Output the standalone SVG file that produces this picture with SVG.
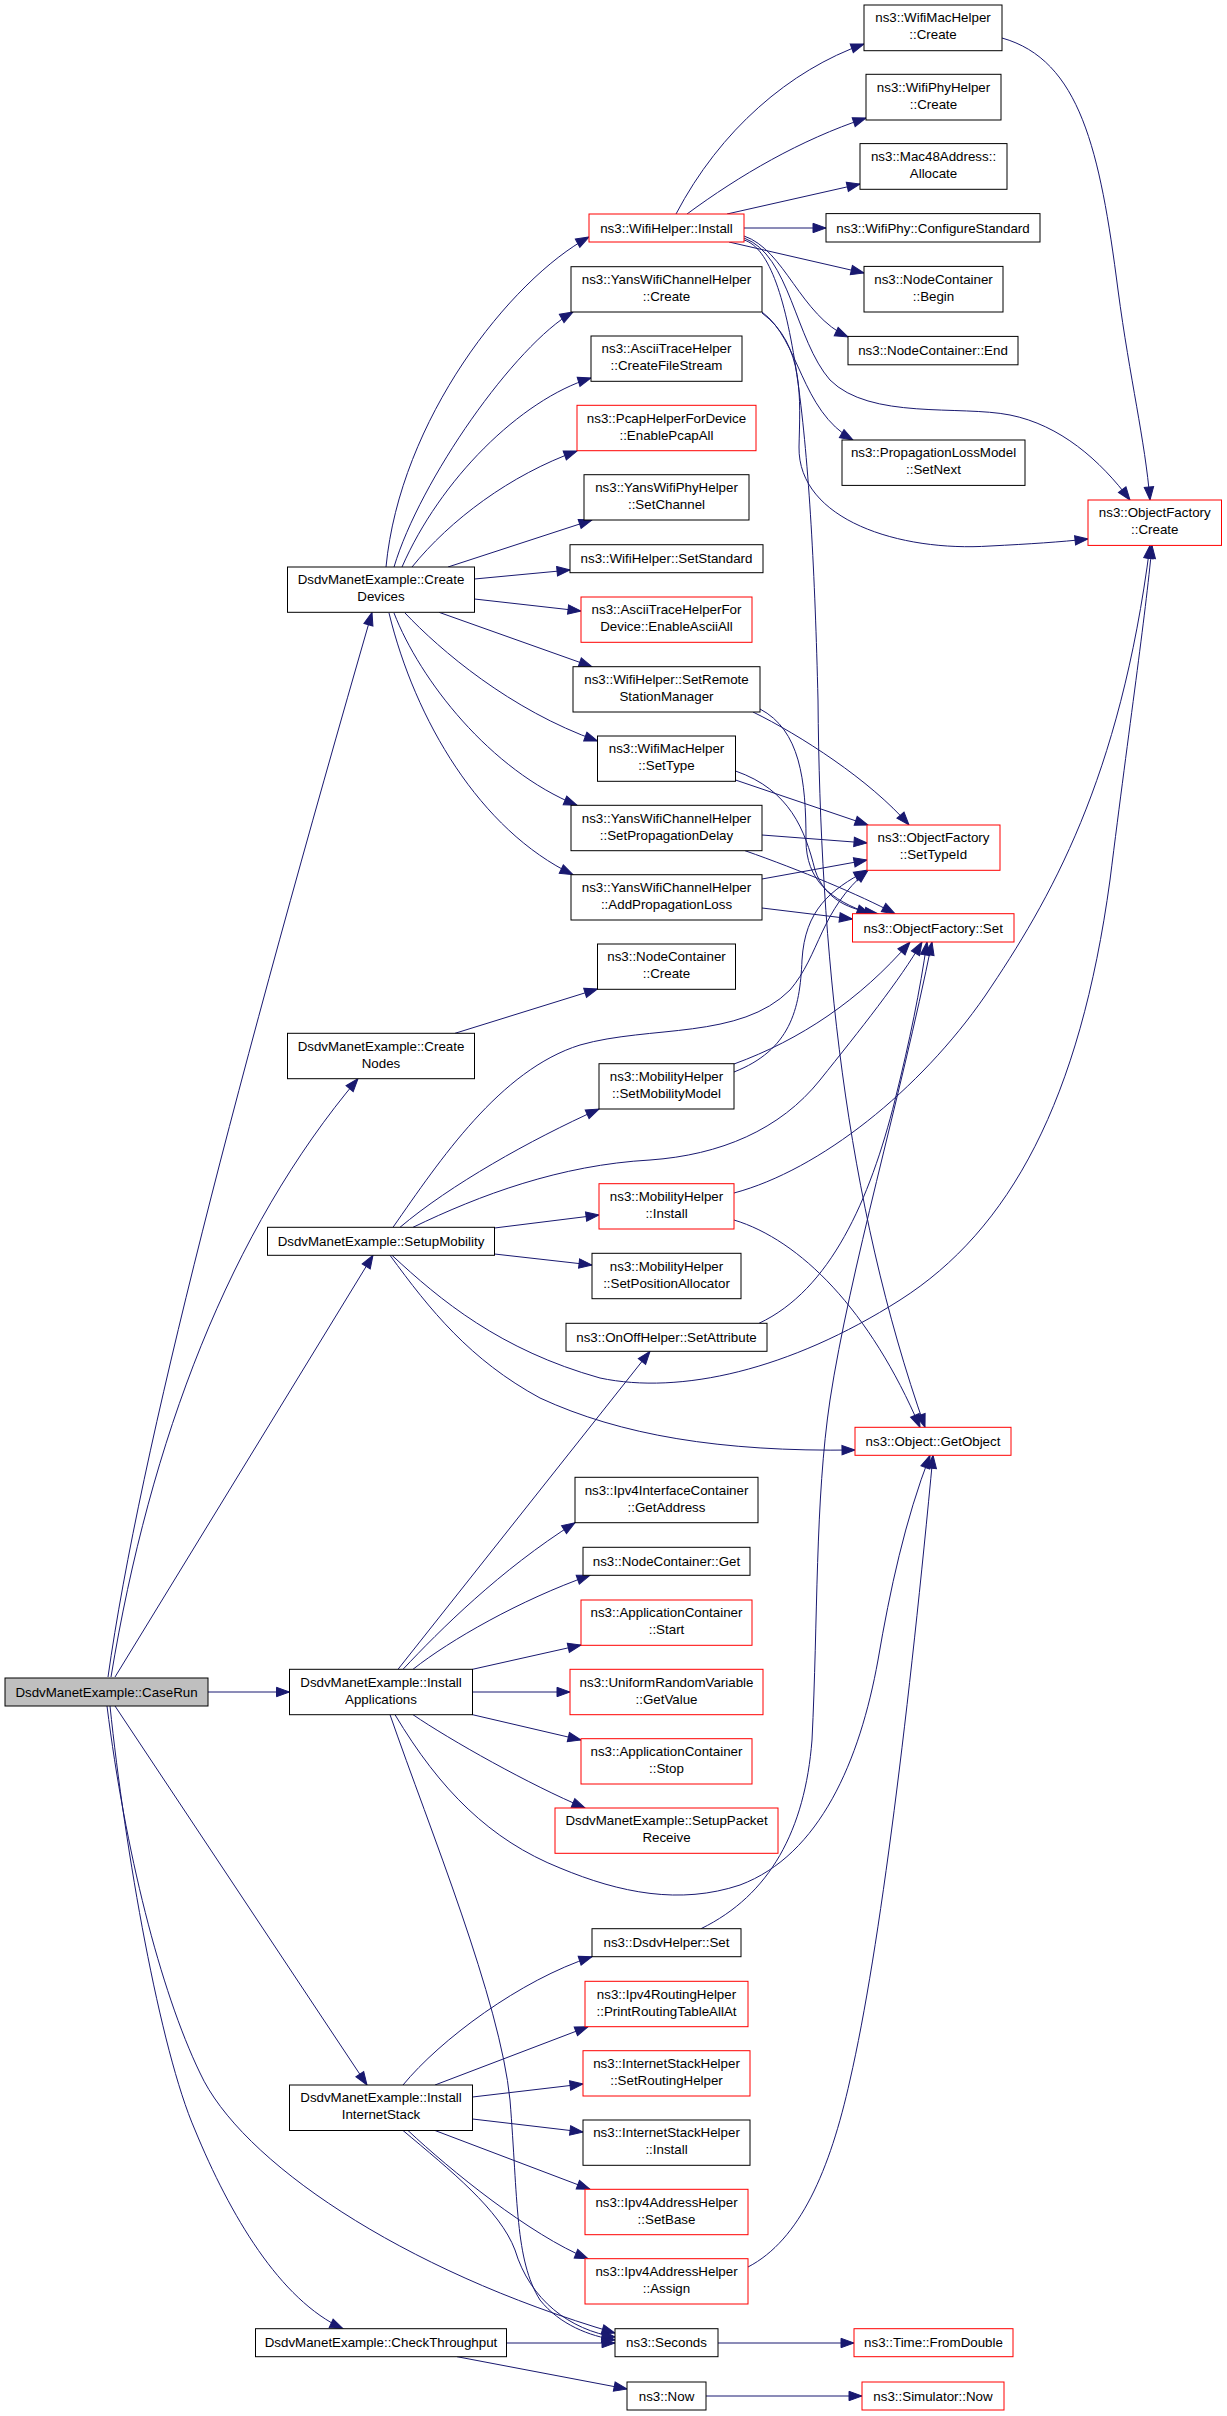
<svg xmlns="http://www.w3.org/2000/svg" width="1227" height="2416" viewBox="0 0 1227 2416">
<style>
.n rect{fill:#fff;stroke:#000;stroke-width:1}
.n.r rect{stroke:#f00}
.n.g rect{fill:#bfbfbf}
text{font-family:"Liberation Sans",Arial,Helvetica,sans-serif;font-size:13.33px;text-anchor:middle;fill:#000}
#edges path{fill:none;stroke:#191970;stroke-width:1;marker-end:url(#a)}
</style>
<defs>
<marker id="a" markerUnits="userSpaceOnUse" markerWidth="15" markerHeight="11" refX="13" refY="4.7" orient="auto" overflow="visible">
<path d="M0,0 L13,4.7 L0,9.4 z" fill="#191970" stroke="#191970" stroke-width="1"/>
</marker>
</defs>
<rect x="0" y="0" width="1227" height="2416" fill="#fff"/>
<g id="edges">
<path d="M108,1677 C140,1450 240,1070 372,612.3"/>
<path d="M111,1677 C150,1440 230,1230 358,1078.7"/>
<path d="M115,1677 L373,1255.3"/>
<path d="M208,1692 L289.5,1692"/>
<path d="M115,1706 L367,2085"/>
<path d="M110,1706 C125,1850 160,2050 195,2130 C230,2215 280,2300 343,2328.7"/>
<path d="M107,1706 C125,1850 160,1990 200,2073 C240,2160 400,2270 615,2333"/>
<path d="M386,567 C400,420 510,280 589,237"/>
<path d="M394,567 C420,480 515,345 573,312"/>
<path d="M402,567 C440,480 520,400 591,378"/>
<path d="M412,567 C450,520 510,475 577,451"/>
<path d="M448,567 L592,520"/>
<path d="M474.5,579 L570,570"/>
<path d="M474.5,599 L581,611"/>
<path d="M439,612.3 L592,666.7"/>
<path d="M405,613 C440,650 510,710 597.5,741"/>
<path d="M394,613 C420,680 490,770 577,805.3"/>
<path d="M389,613 C415,720 480,830 573,874.7"/>
<path d="M676,214 C720,130 790,70 864,44"/>
<path d="M687,214 C740,175 800,140 866,118"/>
<path d="M727,214 L860,184"/>
<path d="M744,228 L826,228"/>
<path d="M729,242 L864,273"/>
<path d="M744,236 C785,250 800,315 848,337"/>
<path d="M744,238 C790,255 795,340 830,380 C870,420 960,405 1010,415 C1060,425 1100,460 1130,500"/>
<path d="M744,240 C795,255 812,450 818,700 C820,950 845,1200 925,1427.3"/>
<path d="M762,312 C800,340 800,410 853,440"/>
<path d="M762,313 C805,345 800,400 799,447 C798,520 900,552 990,546 C1030,544 1060,542 1088,539"/>
<path d="M1002,38 C1080,60 1100,150 1118,290 C1130,380 1145,440 1150,500"/>
<path d="M753,712 C800,735 870,780 909,825"/>
<path d="M760,709 C800,730 806,780 806,840 C806,880 830,900 870,913.7"/>
<path d="M735.5,780 L868,825"/>
<path d="M735.5,771 C790,790 805,830 815,870 C825,900 850,910 878,913.7"/>
<path d="M762,835 L867,843"/>
<path d="M745,850.7 C800,870 860,895 895,913.7"/>
<path d="M762,879 L867,860"/>
<path d="M762,908 L852.5,919"/>
<path d="M455,1033.3 L597.5,989"/>
<path d="M393,1227.3 C440,1160 500,1070 580,1045 C650,1025 740,1040 790,990 C820,955 820,910 868,870.3"/>
<path d="M400,1227.3 C450,1185 530,1140 599,1109"/>
<path d="M413,1227.3 C480,1195 560,1165 650,1160 C720,1155 780,1130 820,1080 C860,1030 900,980 922,942"/>
<path d="M494.5,1228 L599,1215"/>
<path d="M494.5,1254 L592,1265"/>
<path d="M392,1255.3 C440,1300 500,1350 600,1378 C680,1395 790,1370 900,1300 C1010,1230 1080,1100 1110,880 C1130,720 1145,620 1152,545.4"/>
<path d="M390,1255.3 C430,1310 470,1360 540,1398 C620,1435 720,1452 855,1450"/>
<path d="M734,1072 C790,1050 800,1010 802,960 C805,910 830,890 867,870.3"/>
<path d="M734,1064 C800,1040 860,1000 910,942"/>
<path d="M734,1193 C820,1170 920,1090 985,996 C1050,900 1120,780 1150,545.4"/>
<path d="M734,1220 C800,1240 870,1310 920,1427.3"/>
<path d="M759,1323.3 C830,1290 870,1200 895,1100 C910,1040 920,990 927,942"/>
<path d="M398,1669.3 L650,1351.3"/>
<path d="M403,1669.3 C440,1630 500,1570 575,1522.7"/>
<path d="M413,1669.3 C450,1640 520,1600 590,1575.3"/>
<path d="M472.5,1669.3 L581,1645"/>
<path d="M472.5,1692 L570,1692"/>
<path d="M472.5,1714.7 L581,1740"/>
<path d="M413,1714.7 C450,1740 530,1785 585,1808"/>
<path d="M395,1714.7 C440,1790 490,1840 560,1868 C620,1893 680,1905 740,1885 C820,1855 860,1760 878,1660 C890,1590 905,1520 930,1455.3"/>
<path d="M390,1714.7 C430,1830 500,2000 510,2100 C518,2200 515,2260 540,2300 C560,2325 590,2336 615,2340"/>
<path d="M403,2085 C440,2040 520,1980 592,1956.7"/>
<path d="M435,2085 L588,2026.7"/>
<path d="M472.5,2097 L583,2084"/>
<path d="M472.5,2119 L583,2132"/>
<path d="M435,2130.5 L590,2189.3"/>
<path d="M408,2130.5 C450,2170 530,2235 588,2258.7"/>
<path d="M403,2130.5 C450,2170 500,2210 515,2250 C530,2300 570,2330 615,2337"/>
<path d="M506.5,2343 L615,2343"/>
<path d="M457,2356.7 L627,2389"/>
<path d="M718,2343 L854,2343"/>
<path d="M706,2396 L862,2396"/>
<path d="M701,1928.7 C770,1895 805,1830 812,1740 C818,1620 815,1500 830,1400 C850,1270 900,1100 932,942"/>
<path d="M748,2267 C800,2240 830,2170 850,2080 C880,1950 910,1700 933,1455.3"/>
</g>
<g id="n0" class="n g"><rect x="5" y="1678" width="203" height="28"/><text x="106.5" y="1696.7">DsdvManetExample::CaseRun</text></g>
<g id="n1" class="n"><rect x="287.5" y="567" width="187" height="45.3"/><text x="381" y="584.3">DsdvManetExample::Create</text><text x="381" y="601.3">Devices</text></g>
<g id="n2" class="n"><rect x="287.5" y="1033.3" width="187" height="45.4"/><text x="381" y="1050.6">DsdvManetExample::Create</text><text x="381" y="1067.6">Nodes</text></g>
<g id="n3" class="n"><rect x="267.5" y="1227.3" width="227" height="28"/><text x="381" y="1246">DsdvManetExample::SetupMobility</text></g>
<g id="n4" class="n"><rect x="289.5" y="1669.3" width="183" height="45.4"/><text x="381" y="1686.6">DsdvManetExample::Install</text><text x="381" y="1703.6">Applications</text></g>
<g id="n5" class="n"><rect x="289.5" y="2085" width="183" height="45.5"/><text x="381" y="2102.3">DsdvManetExample::Install</text><text x="381" y="2119.3">InternetStack</text></g>
<g id="n6" class="n"><rect x="255.5" y="2328.7" width="251" height="28"/><text x="381" y="2347.4">DsdvManetExample::CheckThroughput</text></g>
<g id="n7" class="n r"><rect x="589" y="214" width="155" height="28"/><text x="666.5" y="232.7">ns3::WifiHelper::Install</text></g>
<g id="n8" class="n"><rect x="571" y="266.7" width="191" height="45.3"/><text x="666.5" y="284">ns3::YansWifiChannelHelper</text><text x="666.5" y="301">::Create</text></g>
<g id="n9" class="n"><rect x="591" y="336" width="151" height="45.3"/><text x="666.5" y="353.3">ns3::AsciiTraceHelper</text><text x="666.5" y="370.3">::CreateFileStream</text></g>
<g id="n10" class="n r"><rect x="577" y="405.3" width="179" height="45.4"/><text x="666.5" y="422.6">ns3::PcapHelperForDevice</text><text x="666.5" y="439.6">::EnablePcapAll</text></g>
<g id="n11" class="n"><rect x="584" y="474.7" width="165" height="45.3"/><text x="666.5" y="492">ns3::YansWifiPhyHelper</text><text x="666.5" y="509">::SetChannel</text></g>
<g id="n12" class="n"><rect x="570" y="544.7" width="193" height="28"/><text x="666.5" y="563.4">ns3::WifiHelper::SetStandard</text></g>
<g id="n13" class="n r"><rect x="581" y="597" width="171" height="45.3"/><text x="666.5" y="614.3">ns3::AsciiTraceHelperFor</text><text x="666.5" y="631.3">Device::EnableAsciiAll</text></g>
<g id="n14" class="n"><rect x="573" y="666.7" width="187" height="45.3"/><text x="666.5" y="684">ns3::WifiHelper::SetRemote</text><text x="666.5" y="701">StationManager</text></g>
<g id="n15" class="n"><rect x="597.5" y="736" width="138" height="45.3"/><text x="666.5" y="753.3">ns3::WifiMacHelper</text><text x="666.5" y="770.3">::SetType</text></g>
<g id="n16" class="n"><rect x="571" y="805.3" width="191" height="45.4"/><text x="666.5" y="822.6">ns3::YansWifiChannelHelper</text><text x="666.5" y="839.6">::SetPropagationDelay</text></g>
<g id="n17" class="n"><rect x="571" y="874.7" width="191" height="45.3"/><text x="666.5" y="892">ns3::YansWifiChannelHelper</text><text x="666.5" y="909">::AddPropagationLoss</text></g>
<g id="n18" class="n"><rect x="597.5" y="944" width="138" height="45.3"/><text x="666.5" y="961.3">ns3::NodeContainer</text><text x="666.5" y="978.3">::Create</text></g>
<g id="n19" class="n"><rect x="599" y="1063.7" width="135" height="45.3"/><text x="666.5" y="1081">ns3::MobilityHelper</text><text x="666.5" y="1098">::SetMobilityModel</text></g>
<g id="n20" class="n r"><rect x="599" y="1183.7" width="135" height="45.3"/><text x="666.5" y="1201">ns3::MobilityHelper</text><text x="666.5" y="1218">::Install</text></g>
<g id="n21" class="n"><rect x="592" y="1253.3" width="149" height="45.4"/><text x="666.5" y="1270.6">ns3::MobilityHelper</text><text x="666.5" y="1287.6">::SetPositionAllocator</text></g>
<g id="n22" class="n"><rect x="566" y="1323.3" width="201" height="28"/><text x="666.5" y="1342">ns3::OnOffHelper::SetAttribute</text></g>
<g id="n23" class="n"><rect x="575" y="1477.3" width="183" height="45.4"/><text x="666.5" y="1494.6">ns3::Ipv4InterfaceContainer</text><text x="666.5" y="1511.6">::GetAddress</text></g>
<g id="n24" class="n"><rect x="583" y="1547.3" width="167" height="28"/><text x="666.5" y="1566">ns3::NodeContainer::Get</text></g>
<g id="n25" class="n r"><rect x="581" y="1600" width="171" height="45.3"/><text x="666.5" y="1617.3">ns3::ApplicationContainer</text><text x="666.5" y="1634.3">::Start</text></g>
<g id="n26" class="n r"><rect x="570" y="1669.3" width="193" height="45.4"/><text x="666.5" y="1686.6">ns3::UniformRandomVariable</text><text x="666.5" y="1703.6">::GetValue</text></g>
<g id="n27" class="n r"><rect x="581" y="1738.7" width="171" height="45.3"/><text x="666.5" y="1756">ns3::ApplicationContainer</text><text x="666.5" y="1773">::Stop</text></g>
<g id="n28" class="n r"><rect x="555" y="1808" width="223" height="45.3"/><text x="666.5" y="1825.3">DsdvManetExample::SetupPacket</text><text x="666.5" y="1842.3">Receive</text></g>
<g id="n29" class="n"><rect x="592" y="1928.7" width="149" height="28"/><text x="666.5" y="1947.4">ns3::DsdvHelper::Set</text></g>
<g id="n30" class="n r"><rect x="585" y="1981.3" width="163" height="45.4"/><text x="666.5" y="1998.6">ns3::Ipv4RoutingHelper</text><text x="666.5" y="2015.6">::PrintRoutingTableAllAt</text></g>
<g id="n31" class="n r"><rect x="583" y="2050.7" width="167" height="45.3"/><text x="666.5" y="2068">ns3::InternetStackHelper</text><text x="666.5" y="2085">::SetRoutingHelper</text></g>
<g id="n32" class="n"><rect x="583" y="2120" width="167" height="45.3"/><text x="666.5" y="2137.3">ns3::InternetStackHelper</text><text x="666.5" y="2154.3">::Install</text></g>
<g id="n33" class="n r"><rect x="585" y="2189.3" width="163" height="45.4"/><text x="666.5" y="2206.6">ns3::Ipv4AddressHelper</text><text x="666.5" y="2223.6">::SetBase</text></g>
<g id="n34" class="n r"><rect x="585" y="2258.7" width="163" height="45.3"/><text x="666.5" y="2276">ns3::Ipv4AddressHelper</text><text x="666.5" y="2293">::Assign</text></g>
<g id="n35" class="n"><rect x="615" y="2328.7" width="103" height="28"/><text x="666.5" y="2347.4">ns3::Seconds</text></g>
<g id="n36" class="n"><rect x="627" y="2382" width="79" height="28"/><text x="666.5" y="2400.7">ns3::Now</text></g>
<g id="n37" class="n"><rect x="864" y="5" width="138" height="45.7"/><text x="933" y="22.3">ns3::WifiMacHelper</text><text x="933" y="39.3">::Create</text></g>
<g id="n38" class="n"><rect x="866" y="74.3" width="135" height="45.7"/><text x="933.5" y="91.6">ns3::WifiPhyHelper</text><text x="933.5" y="108.6">::Create</text></g>
<g id="n39" class="n"><rect x="860" y="143.6" width="147" height="45.7"/><text x="933.5" y="160.9">ns3::Mac48Address::</text><text x="933.5" y="177.9">Allocate</text></g>
<g id="n40" class="n"><rect x="826" y="213.6" width="214" height="28.4"/><text x="933" y="232.5">ns3::WifiPhy::ConfigureStandard</text></g>
<g id="n41" class="n"><rect x="864" y="266.4" width="139" height="45.6"/><text x="933.5" y="283.7">ns3::NodeContainer</text><text x="933.5" y="300.7">::Begin</text></g>
<g id="n42" class="n"><rect x="848" y="336.4" width="170" height="28.4"/><text x="933" y="355.2">ns3::NodeContainer::End</text></g>
<g id="n43" class="n"><rect x="842" y="440" width="183" height="45.4"/><text x="933.5" y="457.3">ns3::PropagationLossModel</text><text x="933.5" y="474.3">::SetNext</text></g>
<g id="n44" class="n r"><rect x="867" y="825" width="133" height="45.3"/><text x="933.5" y="842.3">ns3::ObjectFactory</text><text x="933.5" y="859.3">::SetTypeId</text></g>
<g id="n45" class="n r"><rect x="852.5" y="913.7" width="161.5" height="28.3"/><text x="933.25" y="932.5">ns3::ObjectFactory::Set</text></g>
<g id="n46" class="n r"><rect x="855" y="1427.3" width="156" height="28"/><text x="933" y="1446">ns3::Object::GetObject</text></g>
<g id="n47" class="n r"><rect x="854" y="2328.7" width="159" height="28"/><text x="933.5" y="2347.4">ns3::Time::FromDouble</text></g>
<g id="n48" class="n r"><rect x="862" y="2382" width="142" height="28"/><text x="933" y="2400.7">ns3::Simulator::Now</text></g>
<g id="n49" class="n r"><rect x="1088" y="500" width="133.5" height="45.4"/><text x="1154.75" y="517.3">ns3::ObjectFactory</text><text x="1154.75" y="534.3">::Create</text></g>
</svg>
